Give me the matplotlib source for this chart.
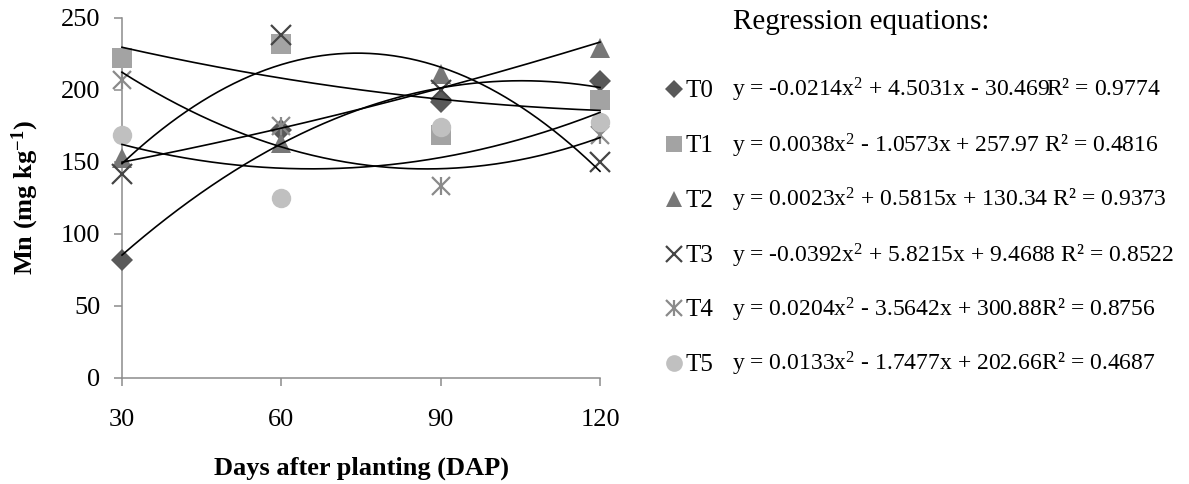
import numpy as np
import matplotlib
matplotlib.use("Agg")
import matplotlib.pyplot as plt

plt.rcParams['font.family'] = ['Liberation Serif', 'DejaVu Serif']
plt.rcParams['mathtext.fontset'] = 'custom'
plt.rcParams['mathtext.rm'] = 'Liberation Serif'
plt.rcParams['mathtext.bf'] = 'Liberation Serif:bold'
plt.rcParams['mathtext.it'] = 'Liberation Serif:italic'

# ---- data ----
days = [30, 60, 90, 120]
series_names = ["T0", "T1", "T2", "T3", "T4", "T5"]
T0 = [82, 172, 192, 206]
T1 = [222, 232, 169, 193]
T2 = [153, 163, 211, 229]
T3 = [142, 238, 200, 150]
T4 = [207, 175, 133, 169]
T5 = [169, 125, 174, 178]
values = [T0, T1, T2, T3, T4, T5]

# regression coefficients (a, b, c) for y = a x^2 + b x + c
coef_T0 = [-0.0214, 4.5031, -30.469]
coef_T1 = [0.0038, -1.0573, 257.97]
coef_T2 = [0.0023, 0.5815, 130.34]
coef_T3 = [-0.0392, 5.8215, 9.4688]
coef_T4 = [0.0204, -3.5642, 300.88]
coef_T5 = [0.0133, -1.7477, 202.66]
coefs = [coef_T0, coef_T1, coef_T2, coef_T3, coef_T4, coef_T5]

equations = [
    r"y = -0.0214x$\mathregular{^{2}}$ + 4.5031x - 30.469R² = 0.9774",
    r"y = 0.0038x$\mathregular{^{2}}$ - 1.0573x + 257.97 R² = 0.4816",
    r"y = 0.0023x$\mathregular{^{2}}$ + 0.5815x + 130.34 R² = 0.9373",
    r"y = -0.0392x$\mathregular{^{2}}$ + 5.8215x + 9.4688 R² = 0.8522",
    r"y = 0.0204x$\mathregular{^{2}}$ - 3.5642x + 300.88R² = 0.8756",
    r"y = 0.0133x$\mathregular{^{2}}$ - 1.7477x + 202.66R² = 0.4687",
]

# ---- styles ----
styles = [
    dict(marker='D', color='#595959', ms=11, mew=0),
    dict(marker='s', color='#a3a3a3', ms=14, mew=0),
    dict(marker='^', color='#777777', ms=14, mew=0),
    dict(marker='x', color='#454545', ms=14, mew=1.6),
    dict(marker='x', color='#8a8a8a', ms=13, mew=1.6),
    dict(marker='o', color='#c0c0c0', ms=14, mew=0),
]

W, H = 1189, 484
fig = plt.figure(figsize=(W / 100, H / 100), dpi=100)
ax = fig.add_axes([122 / W, (H - 378) / H, (600 - 122) / W, 360 / H])

def draw_marker(axis, x, y, i, scale=1.0, **kw):
    st = styles[i]
    axis.plot(x, y, linestyle='none', marker=st['marker'], color=st['color'],
              markersize=st['ms'] * scale, markeredgewidth=st['mew'],
              markeredgecolor=st['color'], clip_on=False, **kw)
    if i == 4:  # asterisk: add vertical bar
        axis.plot(x, y, linestyle='none', marker='|', color=st['color'],
                  markersize=st['ms'] * scale * 1.05, markeredgewidth=st['mew'],
                  clip_on=False, **kw)

for i, vals in enumerate(values):
    draw_marker(ax, days, vals, i, zorder=3)

xs = np.linspace(days[0], days[-1], 300)
for c in coefs:
    ax.plot(xs, np.polyval(c, xs), color='black', lw=1.2, zorder=4, clip_on=False)

ax.set_xlim(30, 120)
ax.set_ylim(0, 250)
ax.set_xticks(days)
ax.set_yticks([0, 50, 100, 150, 200, 250])
for s in ['top', 'right']:
    ax.spines[s].set_visible(False)
for s in ['left', 'bottom']:
    ax.spines[s].set_color('#8c8c8c')
    ax.spines[s].set_linewidth(1.1)
ax.tick_params(axis='y', direction='out', length=5.5, width=1.1, color='#8c8c8c',
               labelsize=19, pad=10)
ax.tick_params(axis='x', direction='out', length=5.5, width=1.1, color='#8c8c8c',
               labelsize=19, pad=17)

fig.text(361 / W, 1 - 468 / H, "Days after planting (DAP)", ha='center', va='center',
         fontsize=19, fontweight='bold')
fig.text(25 / W, 1 - 198 / H, r"Mn (mg kg$\mathbf{^{-1}}$)", ha='center', va='center',
         rotation=90, fontsize=19, fontweight='bold')

# ---- legend panel ----
lg = fig.add_axes([0, 0, 1, 1])
lg.set_xlim(0, W)
lg.set_ylim(H, 0)
lg.axis('off')
lg.text(733, 29, "Regression equations:", fontsize=21, ha='left', va='baseline')
baselines = [97, 152, 207, 262, 316, 371]
for i, name in enumerate(series_names):
    b = baselines[i]
    draw_marker(lg, [674], [b - 8], i, scale=0.86, zorder=3)
    lg.text(686, b, name, fontsize=18, ha='left', va='baseline')
    lg.text(732, b, equations[i], fontsize=17, ha='left', va='baseline')

fig.savefig("out.png", dpi=100)
